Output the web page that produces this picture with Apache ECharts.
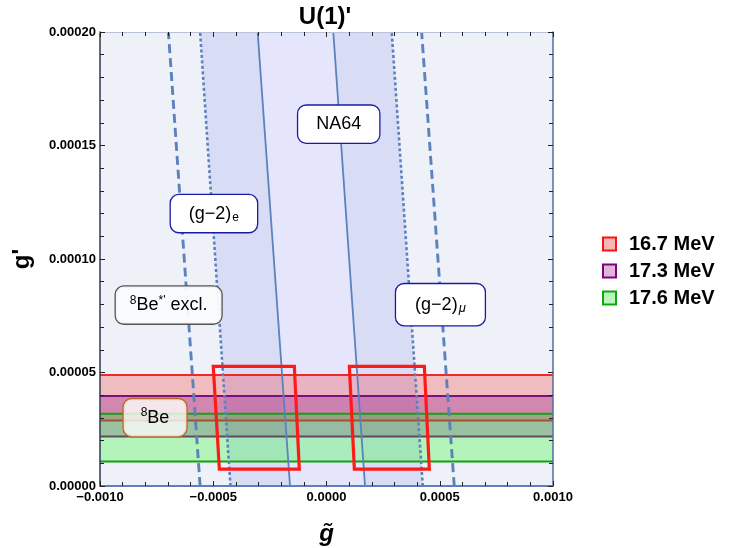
<!DOCTYPE html>
<html>
<head>
<meta charset="utf-8">
<script src="https://cdn.jsdelivr.net/npm/echarts@6/dist/echarts.min.js"></script>
<style>
html,body{margin:0;padding:0;background:#fff;overflow:hidden;}
#chart{width:731px;height:548px;}
</style>
</head>
<body>
<div id="chart"></div>
<script>
// ---- data ----
const xTicks = [-0.001, -0.0005, 0, 0.0005, 0.001];
const yTicks = [0, 0.00005, 0.0001, 0.00015, 0.0002];
// each vertical contour: x at g'=0 and x at g'=0.0002
const lineY = [0, 0.0002];
const gm2eDashedX = [-0.000558, -0.000698];
const gm2eDottedX = [-0.000424, -0.000558];
const na64LeftX = [-0.000161, -0.000304];
const na64RightX = [0.000170, 0.000030];
const gm2muDottedX = [0.000425, 0.000288];
const gm2muDashedX = [0.000564, 0.000420];
// horizontal 8Be bands: [lower g', upper g']
const bandNames = ['16.7 MeV', '17.3 MeV', '17.6 MeV'];
const band167 = [0.0000289, 0.0000489];
const band173 = [0.0000218, 0.0000396];
const band176 = [0.0000108, 0.0000318];
// red allowed regions (corners TL, TR, BR, BL)
const boxLeft = [[-0.000500, 0.0000527], [-0.000142, 0.0000527], [-0.000120, 0.0000074], [-0.000473, 0.0000074]];
const boxRight = [[0.000101, 0.0000527], [0.000432, 0.0000527], [0.000454, 0.0000074], [0.000123, 0.0000074]];
// text labels: [x, y]
const labelNA64 = [0.0000539, 0.0001594];
const labelGm2e = [-0.000497, 0.000120];
const labelExcl = [-0.000697, 0.0000797];
const labelBe = [-0.000757, 0.0000301];
const labelGm2mu = [0.000503, 0.0000799];

const FONT = '"Liberation Sans", Arial, Helvetica, sans-serif';
const LINE_COLOR = '#5B82BD';

function pts(xs) { return [[xs[0], lineY[0]], [xs[1], lineY[1]]]; }
function stripPoly(xa, xb) {
  return [[xa[0], lineY[0]], [xb[0], lineY[0]], [xb[1], lineY[1]], [xa[1], lineY[1]]];
}
function polySeries(name, poly, style, z) {
  return {
    type: 'custom', name: name, z: z, silent: true, clip: true,
    data: [[0, 0]],
    renderItem: function (params, api) {
      return { type: 'polygon', shape: { points: poly.map(p => api.coord(p)) }, style: style };
    }
  };
}
function bandSeries(name, band, fill, stroke, z) {
  return {
    type: 'custom', name: name, z: z, silent: true, clip: true,
    data: [[0, 0]],
    renderItem: function (params, api) {
      const a = api.coord([xTicks[0], band[0]]);
      const b = api.coord([xTicks[4], band[0]]);
      const c = api.coord([xTicks[4], band[1]]);
      const d = api.coord([xTicks[0], band[1]]);
      return {
        type: 'group', children: [
          { type: 'polygon', shape: { points: [a, b, c, d] }, style: { fill: fill } },
          { type: 'line', shape: { x1: a[0], y1: a[1], x2: b[0], y2: b[1] }, style: { stroke: stroke, lineWidth: 2 } },
          { type: 'line', shape: { x1: d[0], y1: d[1], x2: c[0], y2: c[1] }, style: { stroke: stroke, lineWidth: 2 } }
        ]
      };
    }
  };
}
function lineSeries(xs, type, width) {
  return {
    type: 'line', data: pts(xs), symbol: 'none', silent: true, z: 6,
    lineStyle: { color: LINE_COLOR, width: width, type: type }
  };
}
const RICH = {
  t: { fontSize: 18, fontFamily: FONT, fill: '#000', lineHeight: 21 },
  sub: { fontSize: 12, fontFamily: FONT, fill: '#000', lineHeight: 21, verticalAlign: 'bottom', padding: [5, 0, 0, 1] },
  subi: { fontSize: 13, fontFamily: FONT, fontStyle: 'italic', fill: '#000', lineHeight: 21, verticalAlign: 'bottom', padding: [5, 0, 0, 1] },
  sup: { fontSize: 12, fontFamily: FONT, fill: '#000', lineHeight: 21, verticalAlign: 'top', padding: [0, 0, 5, 0] }
};
const labelDefs = [
  { pos: labelNA64, text: '{t|NA64}', border: '#1A1AA8', bg: '#ffffff', pad: [8, 18] },
  { pos: labelGm2e, text: '{t|(g\u22122)}{sub|e}', border: '#1A1AA8', bg: '#ffffff', pad: [8, 18] },
  { pos: labelExcl, text: "{sup|8}{t|Be}{sup|*'}{t| excl.}", border: '#555555', bg: 'rgba(250,251,253,0.95)', pad: [8, 14] },
  { pos: labelBe, text: '{sup|8}{t|Be}', border: '#B8682A', bg: 'rgba(255,255,255,0.78)', pad: [8, 17] },
  { pos: labelGm2mu, text: '{t|(g\u22122)}{subi|\u03bc}', border: '#1A1AA8', bg: '#ffffff', pad: [10, 19] }
];

const chart = echarts.init(document.getElementById('chart'));
const axisLabelStyle = { fontFamily: FONT, fontWeight: 'bold', fontSize: 13, color: '#000' };
const tickCfg = { inside: true, length: 5, lineStyle: { color: '#222' } };
const minorCfg = { show: true, splitNumber: 5, length: 4, lineStyle: { color: '#222' } };

chart.setOption({
  animation: false,
  backgroundColor: '#fff',
  title: {
    text: "U(1)'", left: 320, top: 0, textAlign: 'center',
    textStyle: { fontFamily: FONT, fontWeight: 'bold', fontSize: 24, color: '#000' }
  },
  legend: {
    orient: 'vertical', left: 602, top: 234, padding: 0, itemWidth: 13, itemHeight: 13, itemGap: 7,
    selectedMode: false,
    textStyle: { fontFamily: FONT, fontWeight: 'bold', fontSize: 20, lineHeight: 20, color: '#000', padding: [0, 0, 0, 8] },
    data: [
      { name: bandNames[0], icon: 'rect', itemStyle: { color: '#F9B6B8', borderColor: '#FF1010', borderWidth: 2 } },
      { name: bandNames[1], icon: 'rect', itemStyle: { color: '#DDB6DC', borderColor: '#800080', borderWidth: 2 } },
      { name: bandNames[2], icon: 'rect', itemStyle: { color: '#B9F6BC', borderColor: '#10A810', borderWidth: 2 } }
    ]
  },
  grid: { left: 100, right: 178, top: 32, bottom: 62, show: true, backgroundColor: '#EEF1F7', borderWidth: 0, containLabel: false, outerBoundsMode: 'none' },
  xAxis: [{
    type: 'value', min: xTicks[0], max: xTicks[4], interval: 0.0005, z: 20,
    name: 'g\u0303', nameLocation: 'middle', nameGap: 36,
    nameTextStyle: { fontFamily: FONT, fontWeight: 'bold', fontStyle: 'italic', fontSize: 24, color: '#000' },
    axisLine: { show: true, onZero: false, lineStyle: { color: '#5E7FB8', width: 2 } },
    axisTick: tickCfg, minorTick: minorCfg,
    splitLine: { show: false },
    axisLabel: Object.assign({ margin: 5, formatter: v => (v < 0 ? '\u2212' : '') + Math.abs(v).toFixed(4) }, axisLabelStyle)
  }, {
    type: 'value', position: 'top', min: xTicks[0], max: xTicks[4], interval: 0.0005, z: 20,
    axisLine: { show: true, onZero: false, lineStyle: { color: '#B8C2D8', width: 1 } },
    axisTick: tickCfg, minorTick: minorCfg,
    splitLine: { show: false }, axisLabel: { show: false }
  }],
  yAxis: [{
    type: 'value', min: yTicks[0], max: yTicks[4], interval: 0.00005, z: 20,
    name: "g'", nameLocation: 'middle', nameGap: 66, nameRotate: 90,
    nameTextStyle: { fontFamily: FONT, fontWeight: 'bold', fontSize: 24, color: '#000' },
    axisLine: { show: true, onZero: false, lineStyle: { color: '#2E3A52', width: 1.5 } },
    axisTick: tickCfg, minorTick: minorCfg,
    splitLine: { show: false },
    axisLabel: Object.assign({ margin: 4, formatter: v => v.toFixed(5) }, axisLabelStyle)
  }, {
    type: 'value', position: 'right', min: yTicks[0], max: yTicks[4], interval: 0.00005, z: 20,
    axisLine: { show: true, onZero: false, lineStyle: { color: '#4F6FA6', width: 1.5 } },
    axisTick: tickCfg, minorTick: minorCfg,
    splitLine: { show: false }, axisLabel: { show: false }
  }],
  series: [
    polySeries('shadeL', stripPoly(gm2eDottedX, na64LeftX), { fill: '#D9DCF5' }, 1),
    polySeries('shadeC', stripPoly(na64LeftX, na64RightX), { fill: '#E5E6FC' }, 1),
    polySeries('shadeR', stripPoly(na64RightX, gm2muDottedX), { fill: '#D9DCF5' }, 1),
    bandSeries(bandNames[0], band167, 'rgba(255,0,0,0.22)', '#F02828', 3),
    bandSeries(bandNames[1], band173, 'rgba(130,0,130,0.28)', '#7E107E', 4),
    bandSeries(bandNames[2], band176, 'rgba(0,255,0,0.25)', '#14A014', 5),
    lineSeries(gm2eDashedX, [9, 5], 2.9),
    lineSeries(gm2eDottedX, [3, 2.5], 2.6),
    lineSeries(na64LeftX, 'solid', 1.8),
    lineSeries(na64RightX, 'solid', 1.8),
    lineSeries(gm2muDottedX, [3, 2.5], 2.6),
    lineSeries(gm2muDashedX, [9, 5], 2.9),
    polySeries('boxL', boxLeft, { fill: 'none', stroke: '#FF1A1A', lineWidth: 3.2 }, 8),
    polySeries('boxR', boxRight, { fill: 'none', stroke: '#FF1A1A', lineWidth: 3.2 }, 8),
    {
      type: 'custom', name: 'labels', z: 30, silent: true, clip: false,
      data: labelDefs.map(d => d.pos),
      renderItem: function (params, api) {
        const d = labelDefs[params.dataIndex];
        const p = api.coord([api.value(0), api.value(1)]);
        return {
          type: 'text', x: p[0], y: p[1],
          style: {
            text: d.text, rich: RICH, align: 'center', verticalAlign: 'middle',
            backgroundColor: d.bg, borderColor: d.border, borderWidth: 1.3, borderRadius: 8,
            padding: d.pad, fill: '#000', fontFamily: FONT, fontSize: 18
          }
        };
      }
    }
  ]
});
</script>
</body>
</html>
